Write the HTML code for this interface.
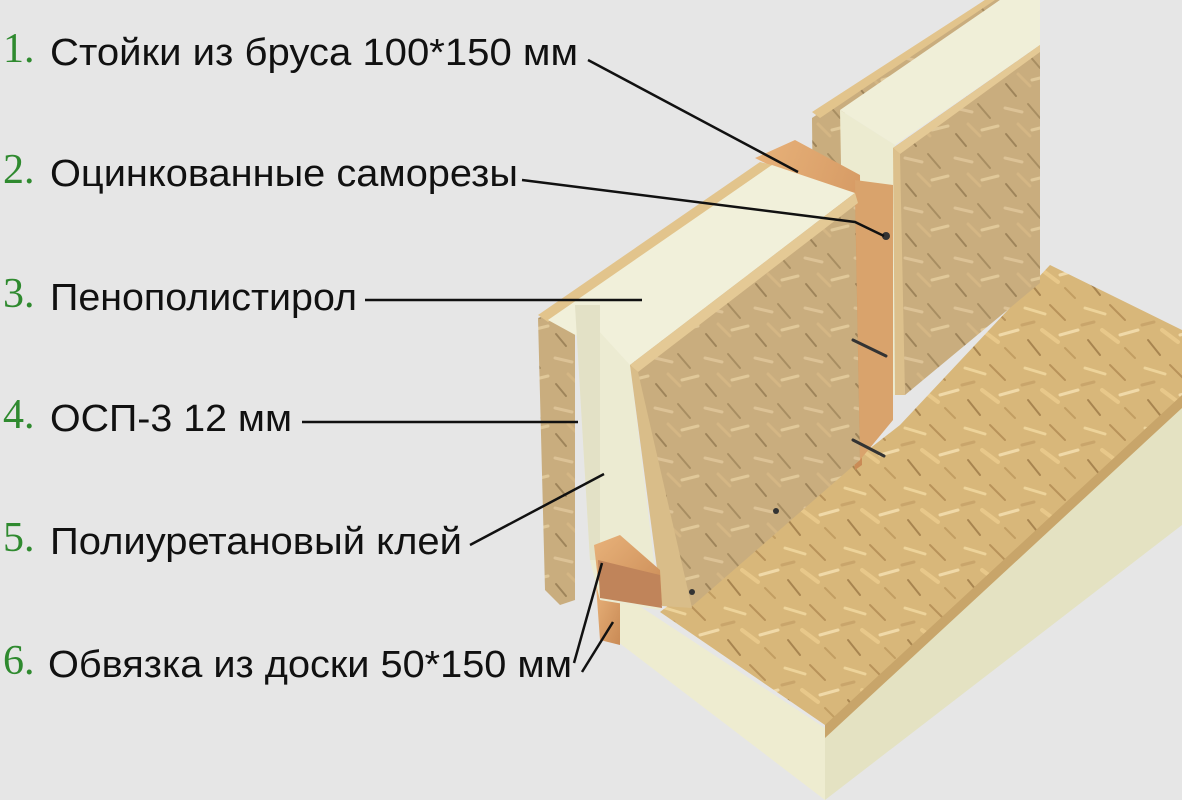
<!DOCTYPE html>
<html><head><meta charset="utf-8"><style>
html,body{margin:0;padding:0;background:#e6e6e6;}
svg{display:block}
.t{font-family:"Liberation Sans",sans-serif;font-size:38px;fill:#111}
.n{font-family:"Liberation Serif",serif;font-size:42px;fill:#2f8a2f}
</style></head><body>
<svg width="1182" height="800" viewBox="0 0 1182 800" xmlns="http://www.w3.org/2000/svg">
<defs>
<pattern id="osb" width="60" height="60" patternUnits="userSpaceOnUse">
<rect width="60" height="60" fill="#d8b77a"/>
<g stroke-linecap="round">
<line x1="5" y1="8" x2="25" y2="14" stroke="#edd39a" stroke-width="3"/>
<line x1="30" y1="5" x2="45" y2="20" stroke="#b8935a" stroke-width="2"/>
<line x1="40" y1="35" x2="58" y2="30" stroke="#f0d9a8" stroke-width="3"/>
<line x1="8" y1="40" x2="20" y2="55" stroke="#a88550" stroke-width="2"/>
<line x1="22" y1="30" x2="38" y2="42" stroke="#e8c88a" stroke-width="4"/>
<line x1="45" y1="48" x2="55" y2="58" stroke="#c29e62" stroke-width="2"/>
<line x1="2" y1="25" x2="14" y2="22" stroke="#c9a56b" stroke-width="3"/>
</g></pattern>
<pattern id="osb2" width="50" height="50" patternUnits="userSpaceOnUse">
<rect width="50" height="50" fill="#c9ad7e"/>
<g stroke-linecap="round">
<line x1="5" y1="8" x2="22" y2="12" stroke="#dcc296" stroke-width="3"/>
<line x1="28" y1="4" x2="40" y2="18" stroke="#a88e62" stroke-width="2"/>
<line x1="32" y1="30" x2="48" y2="26" stroke="#e0c899" stroke-width="3"/>
<line x1="6" y1="34" x2="16" y2="46" stroke="#9e845a" stroke-width="2"/>
<line x1="18" y1="24" x2="30" y2="36" stroke="#d4b684" stroke-width="3"/>
</g></pattern>
<linearGradient id="wood" x1="0" y1="0" x2="1" y2="1">
<stop offset="0" stop-color="#e8b27a"/><stop offset="1" stop-color="#c98a55"/></linearGradient>
</defs>
<rect width="1182" height="800" fill="#e6e6e6"/>

<!-- floor slab -->
<polygon points="612,588 825,728 825,800 618,642" fill="#eeecd0"/>
<polygon points="825,728 1182,400 1182,525 825,800" fill="#e4e2c2"/>
<polygon points="825,722 1182,392 1182,408 825,738" fill="#c8a56a"/>
<polygon points="596,585 620,590 620,645 600,640" fill="url(#wood)"/>
<polygon points="660,612 900,425 1050,265 1182,330 1182,395 825,725" fill="url(#osb)"/>

<!-- right wall -->
<polygon points="812,118 985,0 1000,0 845,112 845,430 815,420" fill="url(#osb2)"/>
<polygon points="812,112 985,0 995,0 820,118" fill="#e2c48c"/>
<polygon points="840,110 1000,0 1040,0 1040,45 895,145" fill="#f0efd8"/>
<polygon points="840,110 895,145 895,395 860,400 845,380" fill="#ecebd0"/>
<polygon points="893,148 1040,45 1040,283 905,395" fill="url(#osb2)"/>
<polygon points="893,148 1040,45 1040,52 900,154" fill="#e4c995"/>
<polygon points="893,148 900,154 905,395 895,395" fill="#dcc08c"/>

<!-- stud -->
<polygon points="755,158 795,140 860,175 862,465 855,470 820,190" fill="url(#wood)"/>
<polygon points="855,180 893,185 893,420 860,460" fill="#d9a36c"/>

<!-- left wall -->
<polygon points="538,318 575,305 575,600 560,605 545,590" fill="url(#osb2)"/>
<polygon points="538,315 760,162 772,165 548,322" fill="#e2c48c"/>
<polygon points="548,320 772,165 855,193 630,365" fill="#f1f0da"/>
<polygon points="575,305 630,365 660,610 600,600 590,560" fill="#ecebd2"/>
<polygon points="575,305 600,305 600,560 590,560" fill="#e3e1c6"/>
<polygon points="630,365 855,193 860,460 690,608" fill="url(#osb2)"/>
<polygon points="630,365 855,193 858,203 638,372" fill="#e4c995"/>
<polygon points="630,365 638,372 692,608 662,606" fill="#d9bd89"/>
<!-- bottom plate -->
<polygon points="594,545 620,535 660,570 662,605 622,590 598,580" fill="url(#wood)"/>
<polygon points="598,560 660,575 662,608 600,598" fill="#c0845a"/>

<!-- screws -->
<g stroke="#333" stroke-width="3" stroke-linecap="round">
<line x1="853" y1="340" x2="886" y2="356"/><line x1="853" y1="440" x2="884" y2="456"/>
</g>
<circle cx="886" cy="236" r="4" fill="#333"/>
<circle cx="776" cy="511" r="3" fill="#333"/><circle cx="692" cy="592" r="3" fill="#333"/>

<!-- leader lines -->
<g stroke="#111" stroke-width="2.5" fill="none">
<path d="M588,60 L798,172"/>
<path d="M522,180 L855,222 L884,236"/>
<path d="M365,300 L642,300"/>
<path d="M302,422 L578,422"/>
<path d="M470,545 L604,474"/>
<path d="M574,663 L602,563"/>
<path d="M582,672 L613,622"/>
</g>

<!-- labels -->
<text class="n" x="3" y="62">1.</text><text class="t" x="50" y="65" textLength="528" lengthAdjust="spacingAndGlyphs">Стойки из бруса 100*150 мм</text>
<text class="n" x="3" y="183">2.</text><text class="t" x="50" y="186" textLength="468" lengthAdjust="spacingAndGlyphs">Оцинкованные саморезы</text>
<text class="n" x="3" y="307">3.</text><text class="t" x="50" y="310" textLength="307" lengthAdjust="spacingAndGlyphs">Пенополистирол</text>
<text class="n" x="3" y="428">4.</text><text class="t" x="50" y="431" textLength="242" lengthAdjust="spacingAndGlyphs">ОСП-3 12 мм</text>
<text class="n" x="3" y="551">5.</text><text class="t" x="50" y="554" textLength="412" lengthAdjust="spacingAndGlyphs">Полиуретановый клей</text>
<text class="n" x="3" y="674">6.</text><text class="t" x="48" y="677" textLength="524" lengthAdjust="spacingAndGlyphs">Обвязка из доски 50*150 мм</text>
</svg>
</body></html>
